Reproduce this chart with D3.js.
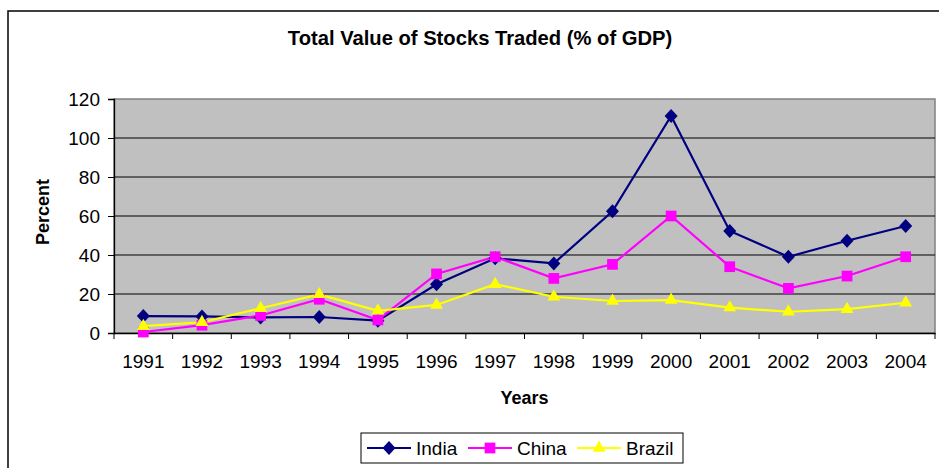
<!DOCTYPE html>
<html><head><meta charset="utf-8">
<script src="https://cdn.jsdelivr.net/npm/d3@7"></script>
<style>body{margin:0;background:#fff}svg{display:block;font-family:"Liberation Sans",Arial,sans-serif}</style>
</head><body>
<script>
const years = ["1991","1992","1993","1994","1995","1996","1997","1998","1999","2000","2001","2002","2003","2004"];
const india = [8.7,8.5,8.0,8.2,6.3,25.0,38.3,35.7,62.4,111.3,52.3,39.1,47.3,54.9];
const china = [0.5,4.0,9.0,17.3,6.7,30.3,39.1,28.0,35.2,60.0,34.0,22.9,29.2,39.1];
const brazil = [3.5,5.5,12.7,19.8,11.4,14.4,25.0,18.6,16.4,16.9,13.0,10.9,12.2,15.5];
const yTicks = [0,20,40,60,80,100,120];
const seriesNames = ["India","China","Brazil"];

const W=939,H=468;
const svg=d3.select("body").append("svg").attr("width",W).attr("height",H);
svg.append("rect").attr("x",8).attr("y",11).attr("width",940).attr("height",480)
  .attr("fill","#fff").attr("stroke","#000").attr("stroke-width",1.5);

const L=114,R=935,T=99,B=333;
const x=d3.scaleBand().domain(years).range([L,R]);
const y=d3.scaleLinear().domain([0,120]).range([B,T]);

svg.append("rect").attr("x",L).attr("y",T).attr("width",R-L).attr("height",B-T)
  .attr("fill","#c0c0c0").attr("stroke","#808080").attr("stroke-width",1.5);

svg.append("g").selectAll("line").data(yTicks.filter(d=>d>0&&d<120)).join("line")
  .attr("x1",L).attr("x2",R).attr("y1",d=>y(d)).attr("y2",d=>y(d))
  .attr("stroke","#000").attr("stroke-width",1);

const ya=svg.append("g").attr("transform",`translate(${L},0)`)
  .call(d3.axisLeft(y).tickValues(yTicks).tickSize(6).tickPadding(8));
ya.select(".domain").attr("stroke","#000").attr("stroke-width",1.3);
ya.selectAll(".tick line").attr("stroke","#000");
ya.selectAll("text").attr("font-size",19).attr("fill","#000").attr("font-family","Liberation Sans, Arial");

const xa=svg.append("g").attr("transform",`translate(0,${B})`)
  .call(d3.axisBottom(x).tickSize(0).tickPadding(22));
xa.select(".domain").attr("stroke","#000").attr("stroke-width",1.3);
xa.selectAll("text").attr("font-size",19).attr("fill","#000").attr("font-family","Liberation Sans, Arial");
const bounds=years.map(d=>x(d)).concat([R]);
svg.append("g").selectAll("line").data(bounds).join("line")
  .attr("x1",d=>d).attr("x2",d=>d).attr("y1",B).attr("y2",B+6).attr("stroke","#000").attr("stroke-width",1);

svg.append("text").attr("x",480).attr("y",45).attr("text-anchor","middle")
  .attr("font-size",20.2).attr("font-weight","bold").text("Total Value of Stocks Traded (% of GDP)");
svg.append("text").attr("x",(L+R)/2).attr("y",404).attr("text-anchor","middle")
  .attr("font-size",18).attr("font-weight","bold").text("Years");
svg.append("text").attr("transform","translate(49,212) rotate(-90)").attr("text-anchor","middle")
  .attr("font-size",18).attr("font-weight","bold").text("Percent");

const diamond={draw(ctx,size){const w=6.5,h=7;ctx.moveTo(0,-h);ctx.lineTo(w,0);ctx.lineTo(0,h);ctx.lineTo(-w,0);ctx.closePath();}};
const cx=d=>x(d)+x.bandwidth()/2;
const data=[
  {name:seriesNames[0],vals:india,color:"#000080",sym:diamond,size:64},
  {name:seriesNames[1],vals:china,color:"#ff00ff",sym:d3.symbolSquare,size:115},
  {name:seriesNames[2],vals:brazil,color:"#ffff00",sym:d3.symbolTriangle,size:72}
];
const line=d3.line().x((d,i)=>cx(years[i])).y(d=>y(d));
data.forEach(s=>{
  svg.append("path").datum(s.vals).attr("d",line).attr("fill","none")
    .attr("stroke",s.color).attr("stroke-width",2.2);
});
data.forEach(s=>{
  svg.append("g").selectAll("path").data(s.vals).join("path")
    .attr("transform",(d,i)=>`translate(${cx(years[i])},${y(d)})`)
    .attr("d",d3.symbol().type(s.sym).size(s.size)).attr("fill",s.color);
});

const lg=svg.append("g");
lg.append("rect").attr("x",361).attr("y",433).attr("width",322).attr("height",30)
  .attr("fill","#fff").attr("stroke","#000").attr("stroke-width",1);
const lx=[367,468,577];
data.forEach((s,i)=>{
  const g=lg.append("g").attr("transform",`translate(${lx[i]},448)`);
  g.append("line").attr("x1",0).attr("x2",44).attr("stroke",s.color).attr("stroke-width",2.2);
  g.append("path").attr("transform",`translate(22,0)`)
    .attr("d",d3.symbol().type(s.sym).size(s.size)).attr("fill",s.color);
  g.append("text").attr("x",49).attr("y",7).attr("font-size",19).text(s.name);
});
</script>
</body></html>
